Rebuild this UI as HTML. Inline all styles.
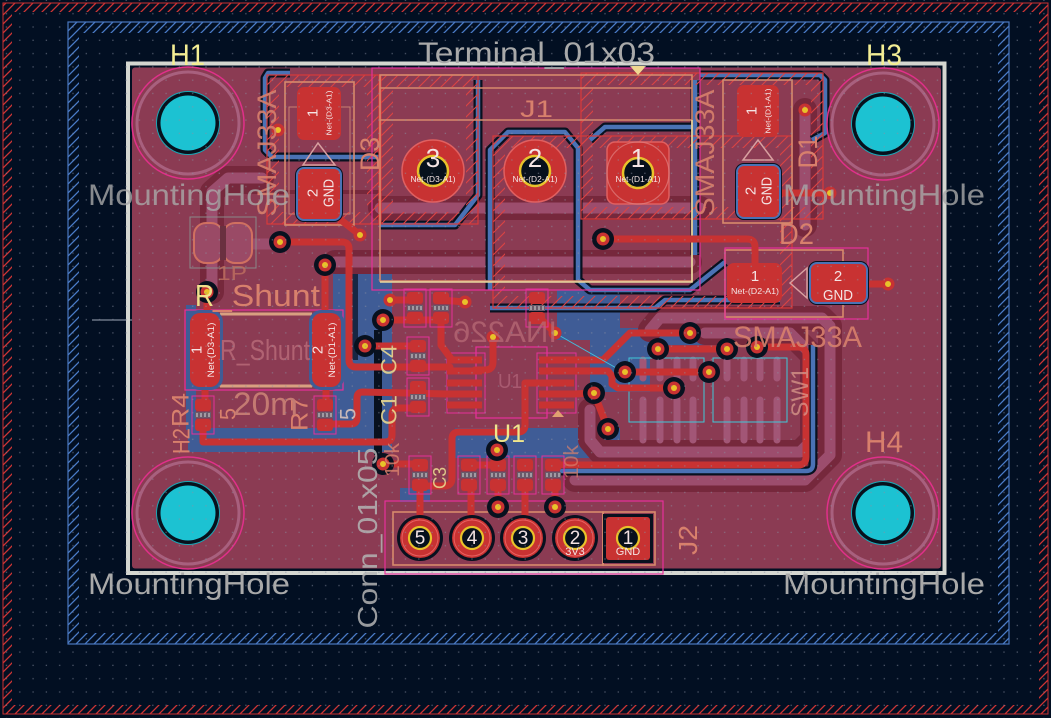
<!DOCTYPE html>
<html><head><meta charset="utf-8"><style>
html,body{margin:0;padding:0;background:#020f22;}
svg{display:block;}
text{font-family:"Liberation Sans",sans-serif;}
</style></head><body>
<svg xmlns="http://www.w3.org/2000/svg" width="1051" height="718" viewBox="0 0 1051 718">
<defs>
<pattern id="grid" patternUnits="userSpaceOnUse" x="-0.25" y="-6.35" width="13.3" height="13.3"><rect x="6.1" y="6.1" width="1.3" height="1.3" fill="#8a90a2"/></pattern>
<pattern id="hr" patternUnits="userSpaceOnUse" width="9" height="9"><path d="M-1,10 L10,-1 M-1,1 L1,-1 M8,10 L10,8" stroke="#d03434" stroke-width="1.3"/></pattern>
<pattern id="hb" patternUnits="userSpaceOnUse" width="9" height="9"><path d="M-1,10 L10,-1 M-1,1 L1,-1 M8,10 L10,8" stroke="#4a7cc8" stroke-width="1.3"/></pattern>
<pattern id="hc" patternUnits="userSpaceOnUse" width="11" height="11"><path d="M-1,12 L12,-1 M-1,1 L1,-1 M10,12 L12,10" stroke="#dc4242" stroke-width="1.1"/></pattern>
<g id="sp">
<rect x="-11" y="-19" width="22" height="38" fill="none" stroke="#e6309a" stroke-width="1"/>
<rect x="-8" y="-16" width="16" height="12" rx="3" fill="#c83232"/>
<rect x="-8" y="4" width="16" height="12" rx="3" fill="#c83232"/>
<rect x="-8" y="-3" width="16" height="6" fill="#6a5a6a"/>
<path d="M-6,-2 L-6,2 M-2,-2 L-2,2 M2,-2 L2,2 M6,-2 L6,2" stroke="#d8d8d8" stroke-width="1"/>
</g>
<g id="via"><circle r="6.5" fill="#c83232"/><circle r="3" fill="#e8c22a"/></g>
<g id="viab"><circle r="11" fill="#08111f"/><circle r="6.5" fill="#c83232"/><circle r="3" fill="#e8c22a"/></g>
<g id="hole">
<circle r="56" fill="none" stroke="#e0308a" stroke-width="1.5"/>
<circle r="51" fill="none" stroke="#a8607e" stroke-width="3"/>
<circle r="32" fill="#1aa6b4"/>
<circle r="31" fill="#07101c"/>
<circle r="27.5" fill="#1cc2d2"/>
</g>
<g id="tp">
<circle r="23" fill="#08111f"/>
<circle r="20" fill="#c83232"/>
<circle r="18" fill="none" stroke="#e86060" stroke-width="1"/>
<circle r="11" fill="#07101c" stroke="#e8c22a" stroke-width="2.2"/>
</g>
</defs>

<rect width="1051" height="718" fill="#020f22"/>
<!-- frames -->
<rect x="7.5" y="7.5" width="1036" height="702" fill="none" stroke="url(#hr)" stroke-width="9"/>
<rect x="3" y="3" width="1045" height="711" fill="none" stroke="#c83232" stroke-width="1"/>
<rect x="73.5" y="27.5" width="930" height="611" fill="none" stroke="url(#hb)" stroke-width="11"/>
<rect x="68" y="22" width="941" height="622" fill="none" stroke="#4a78c0" stroke-width="1.2"/>
<line x1="92" y1="320" x2="170" y2="320" stroke="#a0a8b8" stroke-width="1"/>

<!-- board -->
<rect x="128" y="63.5" width="816.5" height="509.5" fill="none" stroke="#d4d6d0" stroke-width="4"/>
<rect x="132" y="67.5" width="809" height="501" rx="3" fill="#8b3b53"/>

<!-- blue B.Cu zone areas -->
<g fill="#3f5c96">
<rect x="333" y="250" width="59" height="202"/>
<rect x="188" y="428" width="204" height="24"/>
<rect x="186" y="305" width="10" height="125"/>
<rect x="455" y="428" width="165" height="30"/>
<path d="M590,328 L720,328 L720,345 L650,345 L650,392 L590,392 Z"/>
<rect x="557" y="290" width="63" height="50"/>
<rect x="400" y="488" width="30" height="14"/>
</g>
<rect x="374" y="330" width="8" height="125" fill="#08111f"/>
<rect x="352" y="250" width="6" height="110" fill="#08111f" opacity="0.7"/>

<!-- B.Cu traces seen through (dark clearance + light) -->
<g fill="none" stroke-linejoin="round" stroke-linecap="round">
<g stroke="#76283c" stroke-width="24">
<path d="M380,208 L700,208"/>
<path d="M335,262 L690,262"/>
<path d="M805,110 L805,225"/>
<path d="M212,292 L212,192 L228,178 L262,178"/>
<path d="M650,330 L660,318 L822,318 L830,326 L830,455 L805,480 L575,480"/>
<path d="M705,333 L790,333 L812,355 L812,440 L800,452 L600,452 L590,440 L590,410"/>
</g>
<path d="M200,192 L380,192" stroke="#76283c" stroke-width="4"/>
<g stroke="#9c4d6d" stroke-width="11">
<path d="M380,208 L700,208"/>
<path d="M335,262 L690,262"/>
<path d="M805,110 L805,225"/>
<path d="M212,292 L212,192 L228,178 L262,178"/>
<path d="M248,244 L280,244"/>
<path d="M650,330 L660,318 L822,318 L830,326 L830,455 L805,480 L575,480"/>
<path d="M705,333 L790,333 L812,355 L812,440 L800,452 L600,452 L590,440 L590,410"/>
</g>
<!-- switch pads / legs (B.Cu) -->
<g stroke="#a25676" stroke-width="7">
<path d="M643,400 L643,440 M660,400 L660,440 M677,400 L677,440 M693,400 L693,440"/>
<path d="M727,400 L727,440 M744,400 L744,440 M760,400 L760,440 M777,400 L777,440"/>
<path d="M643,360 L643,378 M660,360 L660,378 M677,360 L677,378 M693,360 L693,378"/>
<path d="M727,360 L727,378 M744,360 L744,378 M760,360 L760,378 M777,360 L777,378"/>
</g>
</g>
<rect x="629" y="358" width="75" height="64" fill="none" stroke="#3fc8d8" stroke-width="1"/>
<rect x="713" y="358" width="74" height="64" fill="none" stroke="#3fc8d8" stroke-width="1"/>

<!-- blue outlines of zones -->
<g fill="none" stroke-linejoin="round">
<g stroke="#08111f" stroke-width="9">
<path d="M478,80 L478,195 L455,225 L380,225"/>
<path d="M490,290 L490,150 L508,132 L565,132 L578,148 L578,280 L590,290 L690,290 L725,262"/>
<path d="M590,140 L605,127 L697,127"/>
<path d="M490,308 L655,308 L665,300 L780,300"/>
<path d="M700,75 L820,75 L825,80 L825,133 L812,140"/>
<path d="M695,80 L695,255"/>
<path d="M290,73 L268,73 L265,78 L265,150 L272,157 L380,157"/>
<path d="M560,471 L806,471 Q813,471 813,464 L813,345"/>
</g>
<g stroke="#4a72b5" stroke-width="4.5">
<path d="M478,80 L478,195 L455,225 L380,225"/>
<path d="M490,290 L490,150 L508,132 L565,132 L578,148 L578,280 L590,290 L690,290 L725,262"/>
<path d="M590,140 L605,127 L697,127"/>
<path d="M490,308 L655,308 L665,300 L780,300"/>
<path d="M700,75 L820,75 L825,80 L825,133 L812,140"/>
<path d="M695,80 L695,255"/>
<path d="M290,73 L268,73 L265,78 L265,150 L272,157 L380,157"/>
<path d="M560,471 L806,471 Q813,471 813,464 L813,345"/>
</g>
</g>

<!-- courtyard hatch rects -->
<g fill="none">
<rect x="273" y="81" width="100" height="137" stroke="url(#hc)" stroke-width="12"/>
<rect x="387" y="81" width="85" height="137" stroke="url(#hc)" stroke-width="12"/>
<rect x="499" y="142" width="287" height="160" stroke="url(#hc)" stroke-width="12"/>
<rect x="587" y="79" width="230" height="134" stroke="url(#hc)" stroke-width="12"/>
<g stroke="#d83a3a" stroke-width="1.2">
<rect x="267" y="75" width="112" height="149"/>
<rect x="381" y="75" width="97" height="149"/>
<rect x="493" y="136" width="299" height="172"/>
<rect x="581" y="73" width="242" height="146"/>
</g>
</g>

<!-- fab / silk outlines -->
<g fill="none" stroke-width="1.6">
<rect x="380" y="75" width="312" height="206" stroke="#d88a6c"/>
<path d="M380,88 L692,88 M380,120 L692,120" stroke="#d88a6c"/>
<path d="M692,120 L692,282 L380,282" stroke="#e8d8a0"/>
<rect x="372" y="68" width="328" height="222" stroke="#e6309a" stroke-width="1.2"/>
<rect x="285" y="82" width="69" height="143" stroke="#d88a6c"/>
<rect x="289" y="107" width="61" height="107" stroke="#c98070" stroke-width="1"/>
<rect x="723" y="80" width="69" height="143" stroke="#d88a6c"/>
<rect x="725" y="250" width="118" height="67" stroke="#d88a6c"/>
<rect x="725" y="248" width="143" height="71" stroke="#e6309a" stroke-width="1.2"/>
<rect x="185" y="310" width="158" height="80" stroke="#e6309a" stroke-width="1.2"/>
<path d="M220,314 L312,314 M220,386 L312,386" stroke="#d8a080" stroke-width="3"/>
<rect x="476" y="347" width="71" height="71" stroke="#e6309a" stroke-width="1.2"/>
<rect x="447" y="353" width="38" height="60" stroke="#e6309a" stroke-width="1"/>
<rect x="537" y="353" width="39" height="60" stroke="#e6309a" stroke-width="1"/>
<rect x="393" y="512" width="210" height="53" stroke="#d88a6c"/>
<rect x="603" y="512" width="52" height="53" stroke="#d88a6c"/>
<rect x="385" y="501" width="278" height="73" stroke="#e6309a" stroke-width="1.2"/>
<rect x="190" y="217" width="66" height="51" stroke="#8a8a8a" stroke-width="1"/>
<path d="M303,165 L335,165 L318,143 Z" stroke="#d8a0a0" stroke-width="1.5"/>
<path d="M743,160 L773,160 L758,140 Z" stroke="#d8a0a0" stroke-width="1.5"/>
<path d="M790,283 L807,268 L807,298 Z" stroke="#d8a0a0" stroke-width="1.5"/>
</g>
<!-- JP1 -->
<rect x="194" y="223" width="29" height="40" rx="12" fill="#9a4a66" stroke="#d07060" stroke-width="2"/>
<rect x="223" y="223" width="29" height="40" rx="12" fill="#9a4a66" stroke="#d07060" stroke-width="2"/>
<rect x="220" y="226" width="6" height="34" fill="#6a3040"/>

<!-- F.Cu traces -->
<g fill="none" stroke="#c83232" stroke-width="7" stroke-linejoin="round" stroke-linecap="round">
<path d="M322,205 L360,235"/>
<path d="M280,242 L342,242 Q349,242 349,249 L349,360 Q349,367 356,367 L450,367"/>
<path d="M325,265 L325,320"/>
<path d="M207,292 L207,320"/>
<path d="M205,380 L205,402"/>
<path d="M203,430 L203,442 L385,442 Q392,442 392,435 L392,415 Q392,408 399,408 L418,408"/>
<path d="M326,380 L326,402"/>
<path d="M327,424 L351,424 Q357,424 357,418 L357,398 Q357,392 363,392 L447,394"/>
<path d="M383,320 L441,320"/>
<path d="M390,300 L415,300"/>
<path d="M465,302 L441,300"/>
<path d="M441,318 L441,345 L452,360"/>
<path d="M493,337 L493,362 Q493,370 485,370 L475,370"/>
<path d="M365,346 L418,346"/>
<path d="M574,394 L594,393 L608,429"/>
<path d="M540,318 L555,333"/>
<path d="M539,383 L525,383 L525,425 Q525,432 518,432 L459,432 Q452,432 452,439 L452,478 Q452,486 444,486 L425,486"/>
<path d="M573,360 L603,360 L630,333 L690,333"/>
<path d="M574,371 L608,371 L612,376 L612,384 L618,388 L674,388"/>
<path d="M625,372 L709,372"/>
<path d="M658,349 L727,349"/>
<path d="M757,347 L798,347 Q806,347 806,355 L806,457 Q806,465 798,465 L556,465"/>
<path d="M603,239 L747,239 Q755,239 755,247 L755,270"/>
<path d="M760,193 L830,193"/>
<path d="M845,284 L888,284"/>
<path d="M420,485 L420,530"/>
<path d="M471,485 L471,530"/>
<path d="M525,485 L525,530"/>
<path d="M498,485 L498,507"/>
<path d="M555,485 L555,507"/>
<path d="M383,464 L420,464"/>
<path d="M497,450 L497,465"/>
<path d="M469,465 L498,465"/>
</g>
<line x1="555" y1="333" x2="625" y2="373" stroke="#40c0e0" stroke-width="1"/>

<!-- pads -->
<g fill="#c83232">
<rect x="297" y="87" width="44" height="53" rx="7"/>
<rect x="295" y="166" width="48" height="56" rx="9" fill="#08111f"/>
<rect x="297" y="168" width="44" height="52" rx="7" stroke="#4a72b5" stroke-width="2"/>
<rect x="737" y="85" width="42" height="52" rx="7"/>
<rect x="735" y="163" width="47" height="57" rx="9" fill="#08111f"/>
<rect x="737" y="165" width="43" height="53" rx="7" stroke="#4a72b5" stroke-width="2"/>
<rect x="727" y="263" width="55" height="40" rx="7"/>
<rect x="808" y="261" width="61" height="44" rx="9" fill="#08111f"/>
<rect x="810" y="263" width="57" height="40" rx="7" stroke="#4a72b5" stroke-width="2"/>
<rect x="187" y="310" width="36" height="80" rx="12" fill="#3f5c96"/>
<rect x="190" y="313" width="30" height="74" rx="10"/>
<rect x="309" y="310" width="35" height="80" rx="12" fill="#3f5c96"/>
<rect x="312" y="313" width="29" height="74" rx="10"/>
</g>
<!-- U1 pads -->
<g fill="#c83232">
<rect x="447" y="356.5" width="35" height="7"/><rect x="447" y="367.5" width="35" height="7"/><rect x="447" y="379.5" width="35" height="7"/><rect x="447" y="390.5" width="35" height="7"/><rect x="447" y="401.5" width="35" height="7"/>
<rect x="539" y="356.5" width="35" height="7"/><rect x="539" y="367.5" width="35" height="7"/><rect x="539" y="379.5" width="35" height="7"/><rect x="539" y="390.5" width="35" height="7"/><rect x="539" y="401.5" width="35" height="7"/>
</g>
<path d="M552,417 L558,410 L564,417 Z" fill="#e0a070"/>
<!-- small passives -->
<use href="#sp" x="203" y="415"/>
<use href="#sp" x="325" y="415"/>
<use href="#sp" x="415" y="308"/>
<use href="#sp" x="441" y="308"/>
<use href="#sp" x="418" y="356"/>
<use href="#sp" x="418" y="397"/>
<use href="#sp" x="537" y="308"/>
<use href="#sp" x="420" y="475"/>
<use href="#sp" x="469" y="475"/>
<use href="#sp" x="498" y="475"/>
<use href="#sp" x="525" y="475"/>
<use href="#sp" x="553" y="475"/>

<!-- J1 pads -->
<g>
<circle cx="433" cy="171" r="31" fill="#c83232" stroke="#e06060" stroke-width="1.5"/>
<circle cx="433" cy="171" r="15" fill="#07101c" stroke="#e8c22a" stroke-width="2.5"/>
<circle cx="535" cy="171" r="31" fill="#c83232" stroke="#e06060" stroke-width="1.5"/>
<circle cx="535" cy="171" r="15" fill="#07101c" stroke="#e8c22a" stroke-width="2.5"/>
<rect x="607" y="142" width="62" height="62" rx="8" fill="#c83232" stroke="#e06060" stroke-width="1.5"/>
<circle cx="638" cy="173" r="31" fill="none" stroke="#e08080" stroke-width="1.2" opacity="0.7"/>
<circle cx="638" cy="173" r="15" fill="#07101c" stroke="#e8c22a" stroke-width="2.5"/>
</g>
<path d="M630,66 L646,66 L638,75 Z" fill="#f0d890"/>
<!-- J2 pads -->
<use href="#tp" x="420" y="538"/>
<use href="#tp" x="472" y="538"/>
<use href="#tp" x="523" y="538"/>
<use href="#tp" x="575" y="538"/>
<rect x="603" y="514" width="50" height="49" fill="#08111f"/>
<rect x="606" y="517" width="44" height="43" rx="3" fill="#c83232"/>
<circle cx="628" cy="538" r="11" fill="#07101c" stroke="#e8c22a" stroke-width="2.2"/>

<!-- vias -->
<use href="#via" x="278" y="130"/>
<use href="#via" x="360" y="235"/>
<use href="#viab" x="280" y="242"/>
<use href="#viab" x="325" y="265"/>
<use href="#viab" x="207" y="292"/>
<use href="#via" x="390" y="300"/>
<use href="#viab" x="383" y="320"/>
<use href="#via" x="465" y="302"/>
<use href="#via" x="493" y="337"/>
<use href="#via" x="555" y="333"/>
<use href="#viab" x="365" y="346"/>
<use href="#viab" x="594" y="393"/>
<use href="#viab" x="608" y="429"/>
<use href="#viab" x="383" y="464"/>
<use href="#viab" x="497" y="450"/>
<use href="#viab" x="498" y="507"/>
<use href="#viab" x="555" y="507"/>
<use href="#viab" x="603" y="239"/>
<use href="#viab" x="690" y="333"/>
<use href="#viab" x="658" y="349"/>
<use href="#viab" x="727" y="349"/>
<use href="#viab" x="625" y="372"/>
<use href="#viab" x="709" y="372"/>
<use href="#viab" x="674" y="388"/>
<use href="#viab" x="757" y="347"/>
<use href="#via" x="805" y="110"/>
<use href="#via" x="830" y="193"/>
<use href="#via" x="888" y="284"/>

<!-- mounting holes -->
<use href="#hole" x="188" y="123"/>
<use href="#hole" x="883" y="124"/>
<use href="#hole" x="188" y="513"/>
<use href="#hole" x="883" y="513"/>

<!-- pad text -->
<g fill="#f4e4e4" text-anchor="middle">
<text x="433" y="167" font-size="26">3</text>
<text x="535" y="167" font-size="26">2</text>
<text x="638" y="167" font-size="26">1</text>
<text x="433" y="182" font-size="8" textLength="45" lengthAdjust="spacingAndGlyphs">Net-(D3-A1)</text>
<text x="535" y="182" font-size="8" textLength="45" lengthAdjust="spacingAndGlyphs">Net-(D2-A1)</text>
<text x="638" y="182" font-size="8" textLength="45" lengthAdjust="spacingAndGlyphs">Net-(D1-A1)</text>
<text x="755" y="281" font-size="15">1</text>
<text x="755" y="294" font-size="8" textLength="48" lengthAdjust="spacingAndGlyphs">Net-(D2-A1)</text>
<text x="838" y="281" font-size="15">2</text>
<text x="838" y="300" font-size="15" textLength="30" lengthAdjust="spacingAndGlyphs">GND</text>
<text x="420" y="544" font-size="19">5</text>
<text x="472" y="544" font-size="19">4</text>
<text x="523" y="544" font-size="19">3</text>
<text x="575" y="544" font-size="19">2</text>
<text x="575" y="555" font-size="11">3V3</text>
<text x="628" y="544" font-size="19">1</text>
<text x="628" y="555" font-size="11">GND</text>
<g font-size="15" dominant-baseline="central">
<text transform="translate(313,113) rotate(-90)">1</text>
<text transform="translate(313,193) rotate(-90)">2</text>
<text transform="translate(329,193) rotate(-90)" textLength="28" lengthAdjust="spacingAndGlyphs">GND</text>
<text transform="translate(752,111) rotate(-90)">1</text>
<text transform="translate(751,191) rotate(-90)">2</text>
<text transform="translate(767,191) rotate(-90)" textLength="28" lengthAdjust="spacingAndGlyphs">GND</text>
<text transform="translate(197,350) rotate(-90)">1</text>
<text transform="translate(318,350) rotate(-90)">2</text>
</g>
<g font-size="7.5" dominant-baseline="central">
<text transform="translate(329,113) rotate(-90)" textLength="45" lengthAdjust="spacingAndGlyphs">Net-(D3-A1)</text>
<text transform="translate(768,111) rotate(-90)" textLength="45" lengthAdjust="spacingAndGlyphs">Net-(D1-A1)</text>
<text transform="translate(211,350) rotate(-90)" font-size="9" textLength="55" lengthAdjust="spacingAndGlyphs">Net-(D3-A1)</text>
<text transform="translate(332,350) rotate(-90)" font-size="9" textLength="55" lengthAdjust="spacingAndGlyphs">Net-(D1-A1)</text>
</g>
</g>

<!-- silkscreen / labels -->
<g fill="#d8806c" text-anchor="middle" dominant-baseline="central">
<text transform="translate(267,153) rotate(-90)" font-size="27" textLength="127" lengthAdjust="spacingAndGlyphs" opacity="0.9">SMAJ33A</text>
<text transform="translate(370,154) rotate(-90)" font-size="27" textLength="34" lengthAdjust="spacingAndGlyphs">D3</text>
<text transform="translate(705,153) rotate(-90)" font-size="27" textLength="127" lengthAdjust="spacingAndGlyphs" opacity="0.9">SMAJ33A</text>
<text transform="translate(808,152) rotate(-90)" font-size="27" textLength="33" lengthAdjust="spacingAndGlyphs">D1</text>
<text transform="translate(181,410) rotate(-90)" font-size="24" textLength="34" lengthAdjust="spacingAndGlyphs">R4</text>
<text transform="translate(182,441) rotate(-90)" font-size="24" textLength="26" lengthAdjust="spacingAndGlyphs">H2</text>
<text transform="translate(300,414) rotate(-90)" font-size="24" textLength="34" lengthAdjust="spacingAndGlyphs">R7</text>
<text transform="translate(228,414) rotate(-90)" font-size="22">5</text>
<text transform="translate(688,540) rotate(-90)" font-size="26" textLength="30" lengthAdjust="spacingAndGlyphs">J2</text>
<text transform="translate(393,460) rotate(-90)" font-size="20" textLength="34" lengthAdjust="spacingAndGlyphs" opacity="0.85">10k</text>
<text transform="translate(572,462) rotate(-90)" font-size="20" textLength="34" lengthAdjust="spacingAndGlyphs" opacity="0.7">10k</text>
</g>
<text transform="translate(348,414) rotate(-90)" text-anchor="middle" dominant-baseline="central" font-size="22" fill="#c8b8b8">5</text>
<g fill="#e8d890" text-anchor="middle" dominant-baseline="central" opacity="0.9">
<text transform="translate(389,360) rotate(-90)" font-size="22" textLength="30" lengthAdjust="spacingAndGlyphs">C4</text>
<text transform="translate(389,410) rotate(-90)" font-size="22" textLength="30" lengthAdjust="spacingAndGlyphs">C1</text>
<text transform="translate(440,478) rotate(-90)" font-size="18" textLength="22" lengthAdjust="spacingAndGlyphs">C3</text>
</g>
<text transform="translate(377,538) rotate(-90)" text-anchor="middle" font-size="28" fill="#b4b4b4" opacity="0.85" textLength="181" lengthAdjust="spacingAndGlyphs">Conn_01x05</text>

<g fill="#d8806c">
<text x="520" y="117" font-size="24" textLength="33" lengthAdjust="spacingAndGlyphs">J1</text>
<text x="779" y="244" font-size="30" textLength="35" lengthAdjust="spacingAndGlyphs">D2</text>
<text x="733" y="347" font-size="30" textLength="129" lengthAdjust="spacingAndGlyphs" opacity="0.9">SMAJ33A</text>
<text x="213" y="306" font-size="31" textLength="107" lengthAdjust="spacingAndGlyphs">_Shunt</text>
<text x="865" y="452" font-size="30" textLength="38" lengthAdjust="spacingAndGlyphs">H4</text>
<text x="233" y="415" font-size="32" textLength="65" lengthAdjust="spacingAndGlyphs" fill="#c47a72">20m</text>
</g>
<text x="195" y="306" font-size="31" fill="#f0e08c" textLength="19" lengthAdjust="spacingAndGlyphs">R</text>
<text x="220" y="360" font-size="29" fill="#b06272" textLength="90" lengthAdjust="spacingAndGlyphs">R_Shunt</text>
<text x="217" y="280" font-size="20" fill="#c07060" textLength="30" lengthAdjust="spacingAndGlyphs" opacity="0.8">1P</text>
<text transform="translate(557,342) scale(-1,1)" font-size="30" fill="#b86a76" opacity="0.75" textLength="104" lengthAdjust="spacingAndGlyphs">INA226</text>
<text x="498" y="388" font-size="20" fill="#a85a70" textLength="24" lengthAdjust="spacingAndGlyphs">U1</text>
<text x="493" y="442" font-size="25" fill="#f0e68c" textLength="32" lengthAdjust="spacingAndGlyphs">U1</text>
<text transform="translate(808,392) rotate(-90)" text-anchor="middle" font-size="24" fill="#e0a090" opacity="0.7" textLength="50" lengthAdjust="spacingAndGlyphs">SW1</text>

<!-- top labels -->
<g fill="#f4ee94">
<text x="170" y="65" font-size="30" textLength="35" lengthAdjust="spacingAndGlyphs">H1</text>
<text x="866" y="65" font-size="30" textLength="36" lengthAdjust="spacingAndGlyphs">H3</text>
</g>
<g fill="#a9a9a9">
<text x="418" y="63" font-size="30" textLength="237" lengthAdjust="spacingAndGlyphs">Terminal_01x03</text>
<text x="88" y="205" font-size="30" textLength="202" lengthAdjust="spacingAndGlyphs" opacity="0.8">MountingHole</text>
<text x="783" y="205" font-size="30" textLength="202" lengthAdjust="spacingAndGlyphs" opacity="0.8">MountingHole</text>
<text x="88" y="594" font-size="30" textLength="202" lengthAdjust="spacingAndGlyphs">MountingHole</text>
<text x="783" y="594" font-size="30" textLength="202" lengthAdjust="spacingAndGlyphs">MountingHole</text>
</g>

<!-- grid dots -->
<rect width="1051" height="718" fill="url(#grid)" opacity="0.55"/>
</svg>
</body></html>
